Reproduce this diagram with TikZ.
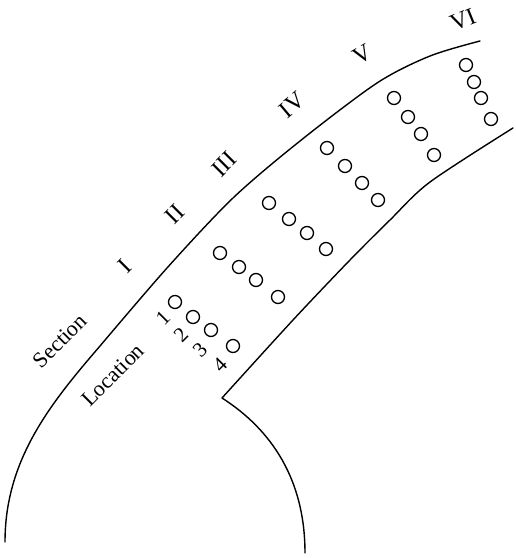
\documentclass[tikz,border=0pt]{standalone}
\usepackage{fontspec}
\setmainfont{Liberation Serif}
\begin{document}
\begin{tikzpicture}[x=1pt,y=-1pt,
  wall/.style={line width=1.4pt,line join=round,line cap=round},
  probe/.style={circle,draw,line width=1.3pt,minimum size=13pt,inner sep=0pt},
  sec/.style={font=\fontsize{24}{24}\selectfont,inner sep=0pt},
  lab/.style={font=\fontsize{22}{22}\selectfont,rotate=45,inner sep=0pt},
  num/.style={font=\fontsize{21}{21}\selectfont,rotate=45,inner sep=0pt}]
\useasboundingbox (0,0) rectangle (516,558);
% outer wall
\draw[wall] (5,542) .. controls (5,460) and (50,404) .. (100,346)
  -- plot[smooth,tension=0.5] coordinates {(100,346) (167,268) (233,198) (300,141) (377,83) (430,56) (480,41)};
% inner wall
\draw[wall] (305,553) .. controls (305,480) and (272,430) .. (222,398)
  -- plot[smooth,tension=0.5] coordinates {(222,398) (293,320) (350,260) (390,220) (430,182) (513,128)};
% probes
\foreach \n/\x/\y in {11/175/302, 12/193/317, 13/211/330, 14/233/346,
  21/220/253, 22/239/267, 23/256/280, 24/278/297,
  31/269/203, 32/289/219, 33/307/233, 34/326/249,
  41/327/148, 42/345/166, 43/362/183, 44/378/200,
  51/394/98, 52/408/117, 53/421/134, 54/434/155,
  61/466/65, 62/474/82, 63/481/98, 64/491/119}
  \node[probe] (c\n) at (\x,\y) {};
% section labels
\node[sec,rotate=45] (s1) at (125,266) {I};
\node[sec,rotate=45] (s2) at (175,214) {II};
\node[sec,rotate=45] (s3) at (224,164) {III};
\node[sec,rotate=40] (s4) at (292,105) {IV};
\node[sec,rotate=30] (s5) at (362,55) {V};
\node[sec,rotate=22] (s6) at (463,20) {VI};
\node[lab] (section) at (60,341) {Section};
\node[lab] (location) at (113,375) {Location};
\node[num] (n1) at (163,318) {1};
\node[num] (n2) at (181,335) {2};
\node[num] (n3) at (200,350) {3};
\node[num] (n4) at (220,365) {4};
\end{tikzpicture}
\end{document}
